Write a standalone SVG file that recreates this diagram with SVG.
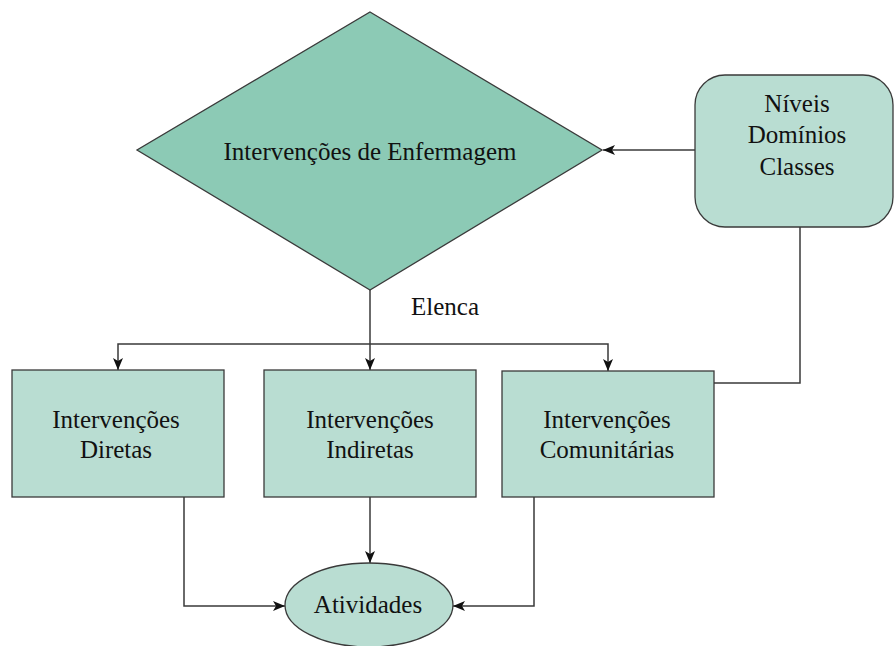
<svg xmlns="http://www.w3.org/2000/svg" width="895" height="646" viewBox="0 0 895 646">
<defs>
<marker id="arr" markerWidth="12" markerHeight="10" refX="12" refY="5" orient="auto" markerUnits="userSpaceOnUse">
<path d="M0,0 L12,5 L0,10 L3,5 Z" fill="#111"/>
</marker>
<style>
.node{stroke:#3a3a3a;stroke-width:1.3}
.box{fill:#b9ddd2}
.dia{fill:#8ccab5}
.c{fill:none;stroke:#3a3a3a;stroke-width:1.5}
</style>
</defs>
<rect width="895" height="646" fill="#ffffff"/>
<g id="connectors">
<path class="c" d="M695,150 L603,150" marker-end="url(#arr)"/>
<path class="c" d="M800,227 L800,383 L714,383"/>
<path class="c" d="M370,290 L370,370" marker-end="url(#arr)"/>
<path class="c" d="M370,344 L118,344 L118,370" marker-end="url(#arr)"/>
<path class="c" d="M370,344 L608,344 L608,371" marker-end="url(#arr)"/>
<path class="c" d="M184,497 L184,606 L285,606" marker-end="url(#arr)"/>
<path class="c" d="M370,497 L370,563" marker-end="url(#arr)"/>
<path class="c" d="M534,497 L534,606 L453,606" marker-end="url(#arr)"/>
</g>
<g font-family="Liberation Serif, DejaVu Serif, serif" font-size="25" fill="#111" text-anchor="middle">
<g id="enfermagem">
<polygon class="node dia" points="370,12 602,150 370,290 137,150"/>
<text x="370" y="160">Intervenções de Enfermagem</text>
</g>
<text x="445" y="315">Elenca</text>
<g id="niveis">
<rect class="node box" x="695" y="75" width="198" height="152" rx="30" ry="30"/>
<text x="797" y="112">Níveis</text>
<text x="797" y="143">Domínios</text>
<text x="797" y="175">Classes</text>
</g>
<g id="diretas">
<rect class="node box" x="12" y="370" width="212" height="127"/>
<text x="116" y="428">Intervenções</text>
<text x="116" y="458">Diretas</text>
</g>
<g id="indiretas">
<rect class="node box" x="264" y="370" width="212" height="127"/>
<text x="370" y="428">Intervenções</text>
<text x="370" y="458">Indiretas</text>
</g>
<g id="comunitarias">
<rect class="node box" x="502" y="371" width="212" height="126"/>
<text x="607" y="428">Intervenções</text>
<text x="607" y="458">Comunitárias</text>
</g>
<g id="atividades">
<ellipse class="node box" cx="369" cy="605" rx="84" ry="42"/>
<text x="368" y="613">Atividades</text>
</g>
</g>
</svg>
